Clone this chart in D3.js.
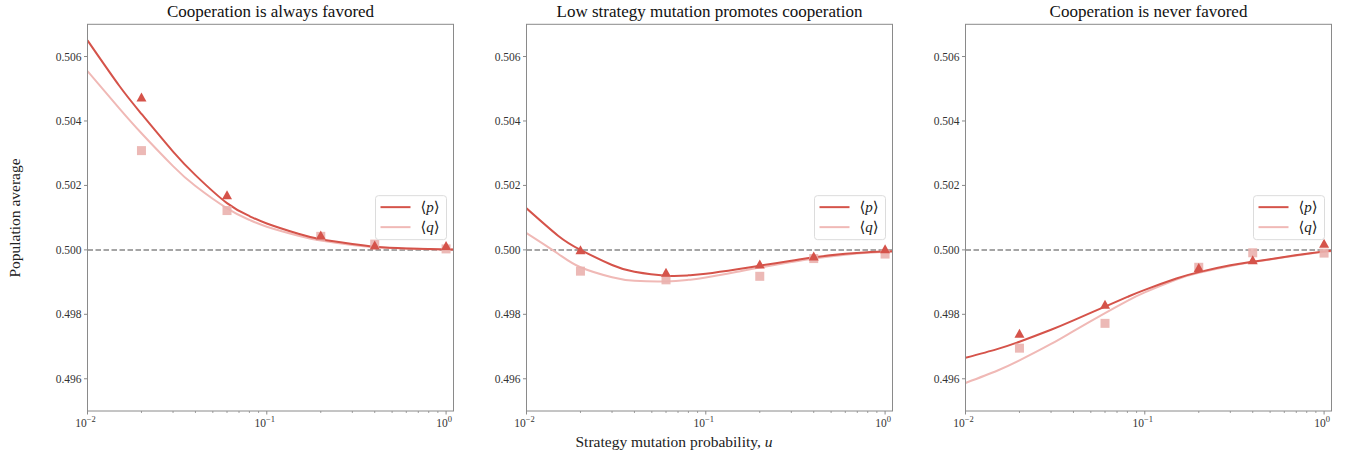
<!DOCTYPE html>
<html>
<head>
<meta charset="utf-8">
<script src="https://cdn.jsdelivr.net/npm/d3@7"></script>
<style>
  body { margin: 0; background: #fff; }
  text { font-family: "Liberation Serif", "DejaVu Serif", serif; }
</style>
</head>
<body>
<svg id="chart" width="1348" height="460"></svg>
<script>
// ---------- data ----------
const titles = ["Cooperation is always favored", "Low strategy mutation promotes cooperation", "Cooperation is never favored"];
const uCurve = [0.01, 0.015, 0.02, 0.03, 0.04, 0.06, 0.08, 0.1, 0.15, 0.2, 0.3, 0.4, 0.6, 0.8, 1.0, 1.1];
const pCurve1 = [0.5065, 0.5051, 0.50422, 0.50305, 0.50232, 0.50145, 0.50105, 0.50082, 0.5005, 0.50033, 0.50018, 0.5001, 0.500045, 0.500025, 0.500015, 0.500012];
const qCurve1 = [0.50555, 0.5044, 0.50362, 0.5026, 0.50198, 0.50129, 0.50093, 0.50072, 0.50044, 0.50029, 0.50015, 0.500085, 0.50004, 0.500022, 0.500013, 0.50001];
const pCurve2 = [0.50129, 0.50044, 0.50000, 0.49953, 0.49932, 0.4992, 0.49921, 0.49926, 0.4994, 0.49951, 0.49966, 0.49977, 0.49988, 0.49993, 0.49995, 0.49996];
const qCurve2 = [0.50052, 0.49988, 0.49946, 0.49915, 0.49904, 0.49902, 0.49907, 0.49914, 0.49932, 0.49945, 0.49962, 0.49973, 0.49985, 0.49991, 0.49994, 0.49995];
const pCurve3 = [0.49665, 0.49692, 0.49715, 0.49752, 0.49781, 0.49824, 0.49854, 0.49876, 0.49911, 0.49931, 0.49952, 0.49963, 0.49978, 0.49988, 0.49995, 0.49997];
const qCurve3 = [0.49587, 0.49625, 0.49657, 0.49708, 0.49748, 0.49804, 0.49842, 0.49868, 0.49908, 0.49929, 0.4995, 0.49962, 0.49977, 0.49987, 0.49994, 0.49996];

const uPts = [0.02, 0.06, 0.2, 0.4, 1.0];
const pPts1 = [0.50474, 0.50171, 0.50046, 0.50015, 0.50013];
const qPts1 = [0.50308, 0.50122, 0.50042, 0.50018, 0.50003];
const pPts2 = [0.50000, 0.49930, 0.49956, 0.49981, 0.50003];
const qPts2 = [0.49934, 0.49907, 0.49918, 0.49973, 0.49987];
const pPts3 = [0.49741, 0.49831, 0.49945, 0.49969, 0.50020];
const qPts3 = [0.49695, 0.49772, 0.49946, 0.49991, 0.49990];

const yTicks = [0.496, 0.498, 0.500, 0.502, 0.504, 0.506];
const xMajor = [0.01, 0.1, 1];
const xMajorExp = ["\u22122", "\u22121", "0"];
const legendLabels = ["p", "q"];
const xLabel = "Strategy mutation probability, ";
const yLabel = "Population average";

const panels = [
  {title: titles[0], pc: pCurve1, qc: qCurve1, pp: pPts1, qp: qPts1},
  {title: titles[1], pc: pCurve2, qc: qCurve2, pp: pPts2, qp: qPts2},
  {title: titles[2], pc: pCurve3, qc: qCurve3, pp: pPts3, qp: qPts3}
];

// ---------- style ----------
const pColor = "#d5534a";
const qColor = "#f0b9b6";
const qMarker = "#eab1ae";
const spine = "#8a8a8a";
const tickText = "#333";

const svg = d3.select("#chart");
const panelLeft = [87.5, 526.5, 965.5];
const pw = 366, yTop = 24.3, yBottom = 411;

const x = d3.scaleLog().domain([0.01, 1.1]);
const y = d3.scaleLinear().domain([0.495, 0.507]).range([yBottom, yTop]);

const minor = [];
[0.01, 0.1].forEach(d => { for (let k = 2; k <= 9; k++) minor.push(d * k); });

panels.forEach((P, i) => {
  const x0 = panelLeft[i];
  const xs = x.copy().range([x0, x0 + pw]);
  const g = svg.append("g");

  const clipId = "clip" + i;
  svg.append("clipPath").attr("id", clipId).append("rect")
    .attr("x", x0).attr("y", yTop).attr("width", pw).attr("height", yBottom - yTop);

  // title
  g.append("text").attr("x", x0 + pw / 2).attr("y", 17).attr("text-anchor", "middle")
    .attr("font-size", 17).attr("fill", "#111").text(P.title);

  // dashed reference line
  g.append("line").attr("x1", x0).attr("x2", x0 + pw)
    .attr("y1", y(0.5)).attr("y2", y(0.5))
    .attr("stroke", "#888").attr("stroke-width", 1.5).attr("stroke-dasharray", "5.5,2.5");

  // curves
  const line = (vals) => d3.line().x((d, j) => xs(uCurve[j])).y(d => y(d)).curve(d3.curveNatural)(vals);
  const cg = g.append("g").attr("clip-path", `url(#${clipId})`);
  cg.append("path").attr("d", line(P.qc)).attr("fill", "none").attr("stroke", qColor).attr("stroke-width", 2);
  cg.append("path").attr("d", line(P.pc)).attr("fill", "none").attr("stroke", pColor).attr("stroke-width", 2);

  // markers: squares (q) then triangles (p)
  const sq = 9;
  cg.selectAll(".sq").data(P.qp).join("rect")
    .attr("x", (d, j) => xs(uPts[j]) - sq / 2).attr("y", d => y(d) - sq / 2)
    .attr("width", sq).attr("height", sq).attr("fill", qMarker).attr("fill-opacity", 0.9);
  const tri = "M0,-4.6L5,4.4L-5,4.4Z";
  cg.selectAll(".tri").data(P.pp).join("path")
    .attr("transform", (d, j) => `translate(${xs(uPts[j])},${y(d)})`)
    .attr("d", tri).attr("fill", pColor);

  // spines
  g.append("rect").attr("x", x0).attr("y", yTop).attr("width", pw).attr("height", yBottom - yTop)
    .attr("fill", "none").attr("stroke", spine).attr("stroke-width", 1);

  // y ticks
  yTicks.forEach(t => {
    g.append("line").attr("x1", x0 - 3.5).attr("x2", x0).attr("y1", y(t)).attr("y2", y(t))
      .attr("stroke", spine);
    g.append("text").attr("x", x0 - 6).attr("y", y(t) + 4).attr("text-anchor", "end")
      .attr("font-size", 11.5).attr("fill", tickText).text(d3.format(".3f")(t));
  });

  // x ticks
  minor.forEach(t => {
    g.append("line").attr("x1", xs(t)).attr("x2", xs(t)).attr("y1", yBottom).attr("y2", yBottom + 2)
      .attr("stroke", spine).attr("stroke-width", 0.8);
  });
  xMajor.forEach((t, j) => {
    g.append("line").attr("x1", xs(t)).attr("x2", xs(t)).attr("y1", yBottom).attr("y2", yBottom + 3.5)
      .attr("stroke", spine);
    const tx = g.append("text").attr("x", xs(t) - 2).attr("y", yBottom + 16).attr("text-anchor", "middle")
      .attr("font-size", 11.5).attr("fill", tickText);
    tx.append("tspan").text("10");
    tx.append("tspan").attr("dy", -5).attr("font-size", 8.5).text(xMajorExp[j]);
  });

  // legend
  const lw = 71, lh = 44;
  const lx = x0 + pw - 7 - lw, ly = (yTop + yBottom) / 2 - lh / 2;
  const lg = g.append("g");
  lg.append("rect").attr("x", lx).attr("y", ly).attr("width", lw).attr("height", lh).attr("rx", 3)
    .attr("fill", "#fff").attr("fill-opacity", 0.85).attr("stroke", "#dcdcdc");
  [pColor, qColor].forEach((c, k) => {
    const yy = ly + 11.5 + k * 20;
    lg.append("line").attr("x1", lx + 5).attr("x2", lx + 35).attr("y1", yy).attr("y2", yy)
      .attr("stroke", c).attr("stroke-width", 2);
    const t = lg.append("text").attr("x", lx + 45).attr("y", yy + 5).attr("font-size", 15).attr("fill", "#222");
    t.append("tspan").text("\u27E8");
    t.append("tspan").attr("font-style", "italic").text(legendLabels[k]);
    t.append("tspan").text("\u27E9");
  });
});

// axis labels
const xl = svg.append("text").attr("x", 674).attr("y", 447).attr("text-anchor", "middle")
  .attr("font-size", 15.5).attr("fill", "#222");
xl.append("tspan").text(xLabel);
xl.append("tspan").attr("font-style", "italic").text("u");

svg.append("text").attr("transform", "translate(20,218) rotate(-90)").attr("text-anchor", "middle")
  .attr("font-size", 15.5).attr("fill", "#222").text(yLabel);
</script>
</body>
</html>
